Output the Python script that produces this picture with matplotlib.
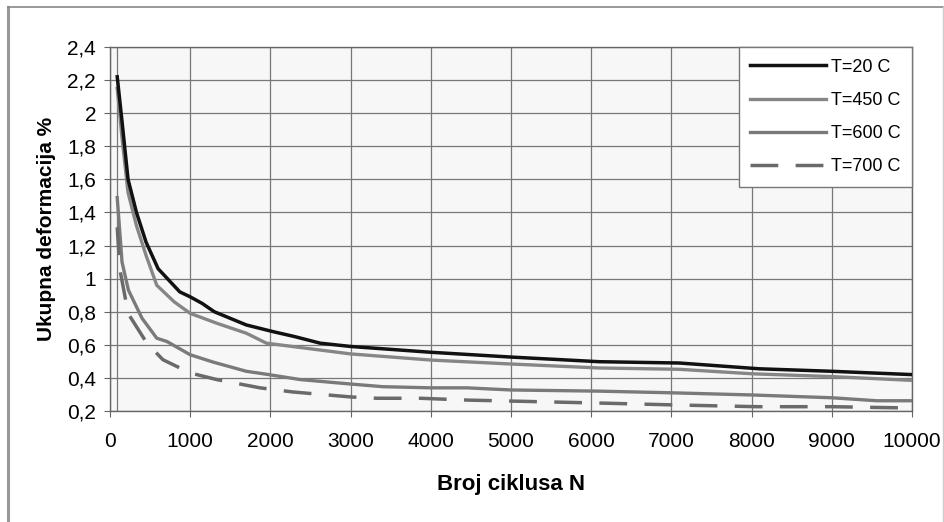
import matplotlib.pyplot as plt
from matplotlib.lines import Line2D
from matplotlib.ticker import FuncFormatter

plt.rcParams['font.family'] = ['Liberation Sans', 'DejaVu Sans']

# Podaci ocitani sa grafika
n_20 = [90, 150, 225, 330, 450, 600, 870, 1000, 1150, 1300, 1700, 2030, 2300, 2620,
        3000, 4000, 5000, 6100, 7100, 8100, 9000, 10000]
y_20 = [2.22, 1.95, 1.60, 1.40, 1.22, 1.06, 0.92, 0.89, 0.85, 0.80, 0.72, 0.68, 0.65,
        0.61, 0.59, 0.555, 0.526, 0.498, 0.49, 0.455, 0.44, 0.42]

n_450 = [90, 150, 225, 330, 450, 583, 800, 1000, 1334, 1700, 1950, 3000, 4000, 5000,
         6100, 7100, 8000, 9000, 10000]
y_450 = [2.15, 1.85, 1.52, 1.32, 1.14, 0.96, 0.86, 0.79, 0.73, 0.67, 0.61, 0.545,
         0.508, 0.484, 0.46, 0.452, 0.425, 0.408, 0.385]

n_600 = [90, 150, 230, 400, 583, 710, 1000, 1290, 1700, 1980, 2370, 3000, 3400, 4000,
         4450, 5000, 6100, 7000, 8000, 9000, 9560, 10000]
y_600 = [1.49, 1.10, 0.93, 0.76, 0.64, 0.62, 0.54, 0.495, 0.44, 0.42, 0.39, 0.363,
         0.347, 0.34, 0.34, 0.327, 0.32, 0.31, 0.297, 0.28, 0.262, 0.262]

n_700 = [90, 125, 180, 225, 460, 660, 1000, 1330, 1870, 2280, 3000, 3330, 3870, 4450,
         6100, 7100, 8070, 9000, 10000]
y_700 = [1.31, 1.05, 0.91, 0.79, 0.61, 0.51, 0.43, 0.39, 0.34, 0.315, 0.285, 0.277,
         0.277, 0.266, 0.248, 0.236, 0.226, 0.226, 0.218]

fig = plt.figure(figsize=(9.44, 5.22), dpi=100)
ax = fig.add_axes([110/944, 1 - 411/522, 802/944, 364/522])
ax.set_facecolor('#f7f7f7')

ax.plot(n_20, y_20, color='#111111', lw=2.5, label='T=20 C', zorder=5)
ax.plot(n_450, y_450, color='#868686', lw=2.4, label='T=450 C', zorder=4)
ax.plot(n_600, y_600, color='#7a7a7a', lw=2.4, label='T=600 C', zorder=4)
ax.plot(n_700, y_700, color='#6a6a6a', lw=2.5, dashes=(8, 5), label='T=700 C', zorder=4)

ax.set_xlim(0, 10000)
ax.set_ylim(0.2, 2.4)
ax.set_xticks(range(0, 10001, 1000))
ax.set_yticks([0.2 + 0.2*i for i in range(12)])
ax.yaxis.set_major_formatter(FuncFormatter(lambda v, p: f'{v:.1f}'.rstrip('0').rstrip('.').replace('.', ',')))
ax.grid(True, color='#777777', lw=0.9)
ax.axvline(90, color='#777777', lw=0.9, zorder=1)
ax.set_axisbelow(True)
for s in ax.spines.values():
    s.set_color('#666666')
    s.set_linewidth(1.0)
ax.tick_params(axis='both', labelsize=15, length=4, color='#666666')
ax.tick_params(axis='x', pad=11)
ax.tick_params(axis='y', pad=6)

ax.set_xlabel('Broj ciklusa N', fontsize=16, fontweight='bold', labelpad=17)
ax.set_ylabel('Ukupna deformacija %', fontsize=15, fontweight='bold', labelpad=8)

leg = ax.legend(loc='upper right', bbox_to_anchor=(1.0, 1.0), fontsize=13,
                frameon=True, fancybox=False, handlelength=4.2, handletextpad=0.25,
                labelspacing=0.9, borderpad=0.65, borderaxespad=0)
leg.get_frame().set_edgecolor('#777777')
leg.get_frame().set_facecolor('white')
leg.get_frame().set_alpha(1)

# okvir oko slike
fig.add_artist(Line2D([8/944, 8/944], [0, 1 - 7/522], transform=fig.transFigure, color='#999999', lw=2.2))
fig.add_artist(Line2D([8/944, 943/944], [1 - 7/522, 1 - 7/522], transform=fig.transFigure, color='#888888', lw=1.2))
fig.add_artist(Line2D([943/944, 943/944], [0, 1 - 7/522], transform=fig.transFigure, color='#cccccc', lw=1.0))

fig.savefig('out.png', dpi=100)
